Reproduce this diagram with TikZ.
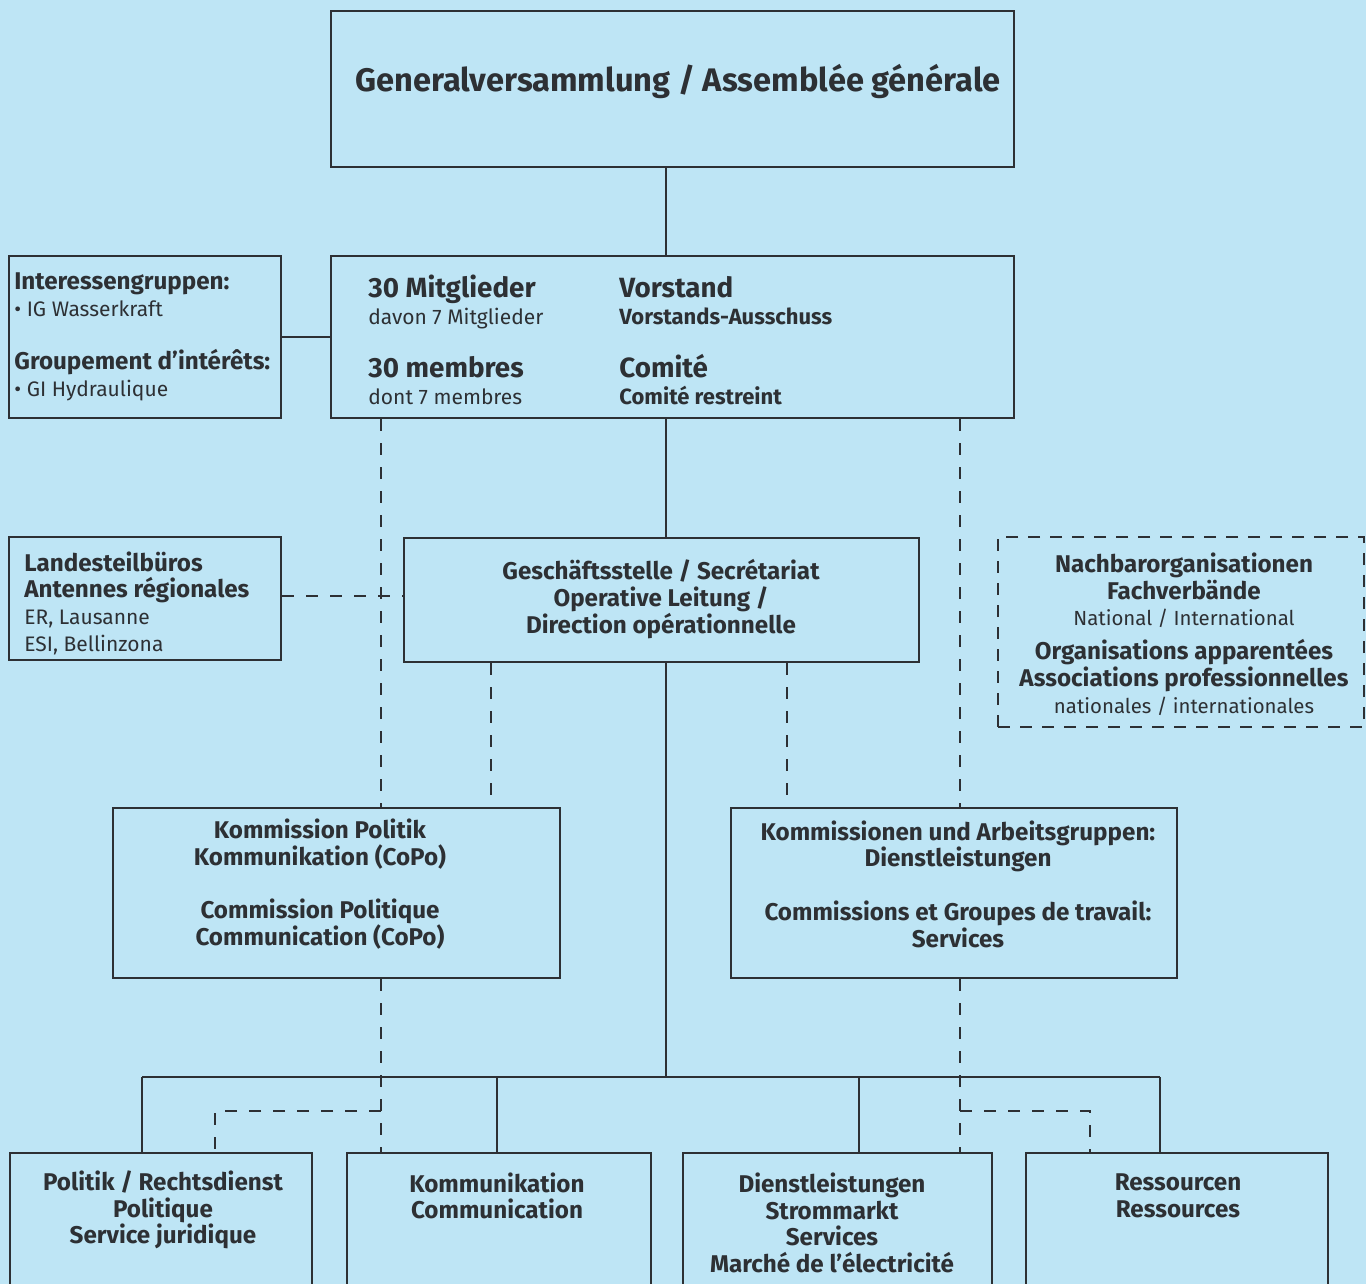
\documentclass[tikz,border=0pt]{standalone}
\usepackage{fontspec}
\setmainfont{Fira Sans}
\usetikzlibrary{positioning,fit}
\definecolor{bg}{RGB}{190,229,245}
\definecolor{ink}{RGB}{45,48,52}

\begin{document}
\begin{tikzpicture}[x=0.5pt,y=-0.5pt]
        \tikzstyle{box} = [draw=ink,line width=1pt,rectangle,inner sep=0pt]
        \tikzstyle{dbox} = [box,line width=0.7pt,dash pattern=on 6pt off 5pt]
        \tikzstyle{t} = [text=ink,inner sep=0pt,align=center,font=\fontsize{12.1}{13.35}\selectfont\bfseries]
        \tikzstyle{tr} = [t,font=\fontsize{10.2}{13.35}\selectfont]
        \tikzstyle{tb} = [t,font=\fontsize{13.9}{15}\selectfont\bfseries]
        \tikzstyle{link} = [draw=ink,line width=0.8pt]
        \tikzstyle{dlink} = [draw=ink,line width=0.7pt,dash pattern=on 6pt off 6pt]
        \useasboundingbox (0,0) rectangle (1366,1284);
        \fill[bg] (0,0) rectangle (1366,1284);
        \clip (0,0) rectangle (1366,1284);
        % boxes
        \node[box,fit={(331,11) (1014,167)}] (gv) {};
        \node[box,fit={(331,256) (1014,418)}] (vs) {};
        \node[box,fit={(9,256) (281,418)}] (ig) {};
        \node[box,fit={(9,537) (281,660)}] (lb) {};
        \node[box,fit={(404,538) (919,662)}] (gs) {};
        \node[dbox,fit={(998,537) (1364,727)}] (nb) {};
        \node[box,fit={(113,808) (560,978)}] (kp) {};
        \node[box,fit={(731,808) (1177,978)}] (kc) {};
        \foreach \n/\a/\b in {pol/10/312,kom/347/651,dl/683/992,res/1026/1328}{
          \node[box,fit={(\a,1153) (\b,1300)}] (\n) {};
        }
        % texts
        \node[t,font=\fontsize{16.3}{18}\selectfont\bfseries] (gvt) at (678,82) {Generalversammlung / Assemblée générale};
        \node[tb,anchor=base west] (m1) at (368,297) {30 Mitglieder};
        \node[tr,font=\fontsize{10.5}{13.35}\selectfont,anchor=base west] (m2) at (368,324) {davon 7 Mitglieder};
        \node[tb,anchor=base west] (m3) at (368,377) {30 membres};
        \node[tr,font=\fontsize{10.5}{13.35}\selectfont,anchor=base west] (m4) at (368,404) {dont 7 membres};
        \node[tb,anchor=base west] (v1) at (619,297) {Vorstand};
        \node[t,font=\fontsize{11}{13.35}\selectfont\bfseries,anchor=base west] (v2) at (619,324) {Vorstands-Ausschuss};
        \node[tb,anchor=base west] (v3) at (619,377) {Comité};
        \node[t,font=\fontsize{11}{13.35}\selectfont\bfseries,anchor=base west] (v4) at (619,404) {Comité restreint};
        \node[tr,font=\fontsize{10.5}{13.35}\selectfont,align=left,anchor=west] (igt) at (14,337) {{\fontsize{12.1}{13.35}\selectfont\bfseries Interessengruppen:}\\• IG Wasserkraft\\[13.35pt]{\fontsize{12.1}{13.35}\selectfont\bfseries Groupement d’intérêts:}\\• GI Hydraulique};
        \node[tr,font=\fontsize{10.5}{13.35}\selectfont,align=left,anchor=west] (lbt) at (24,603) {{\fontsize{12.1}{13.35}\selectfont\bfseries Landesteilbüros}\\{\fontsize{12.1}{13.35}\selectfont\bfseries Antennes régionales}\\ER, Lausanne\\ESI, Bellinzona};
        \node[t] (gst) at (661,599) {Geschäftsstelle / Secrétariat\\Operative Leitung /\\Direction opérationnelle};
        \node[tr] (nbt) at (1184,634) {{\fontsize{12.1}{13.35}\selectfont\bfseries Nachbarorganisationen}\\{\fontsize{12.1}{13.35}\selectfont\bfseries Fachverbände}\\National / International\\[3.5pt]{\fontsize{12.1}{13.35}\selectfont\bfseries Organisations apparentées}\\{\fontsize{12.1}{13.35}\selectfont\bfseries Associations professionnelles}\\nationales / internationales};
        \node[t] (kpt) at (320,884) {Kommission Politik\\Kommunikation (CoPo)\\[13.35pt]Commission Politique\\Communication (CoPo)};
        \node[t] (kct) at (958,884) {Kommissionen und Arbeitsgruppen:\\Dienstleistungen\\[13.35pt]Commissions et Groupes de travail:\\Services};
        \node[t] (polt) at (163,1210) {Politik / Rechtsdienst\\Politique\\Service juridique};
        \node[t] (komt) at (497,1196) {Kommunikation\\Communication};
        \node[t] (dlt) at (832,1223) {Dienstleistungen\\Strommarkt\\Services\\Marché de l’électricité};
        \node[t] (rest) at (1178,1196) {Ressourcen\\Ressources};
        % solid lines
        \coordinate (sp) at (666,0);
        \coordinate (bus) at (666,1077);
        \coordinate (ld) at (0,596);
        \draw[link] (gv.south -| sp) -- (vs.north -| sp);
        \draw[link] (vs.south -| sp) -- (gs.north -| sp);
        \draw[link] (gs.south -| sp) -- (bus);
        \draw[link] (ig.east) -- (vs.west);
        \draw[link] (142,1077) -- (1160,1077);
        \foreach \x/\n in {142/pol,497/kom,859/dl,1160/res}{
          \draw[link] (\x,1077) -- (\x,1077 |- \n.north);
        }
        % dashed lines
        \draw[dlink] (381,0 |- vs.south) -- (381,0 |- kp.north);
        \draw[dlink] (960,0 |- vs.south) -- (960,0 |- kc.north);
        \draw[dlink] (ld -| lb.east) -- (ld -| gs.west);
        \draw[dlink] (491,0 |- gs.south) -- (491,0 |- kp.north);
        \draw[dlink] (787,0 |- gs.south) -- (787,0 |- kc.north);
        \draw[dlink] (381,0 |- kp.south) -- (381,0 |- kom.north);
        \draw[dlink] (960,0 |- kc.south) -- (960,0 |- dl.north);
        \draw[dlink] (381,1111) -- (215,1111) -- (215,0 |- pol.north);
        \draw[dlink] (960,1111) -- (1090,1111) -- (1090,0 |- res.north);
\end{tikzpicture}
\end{document}
